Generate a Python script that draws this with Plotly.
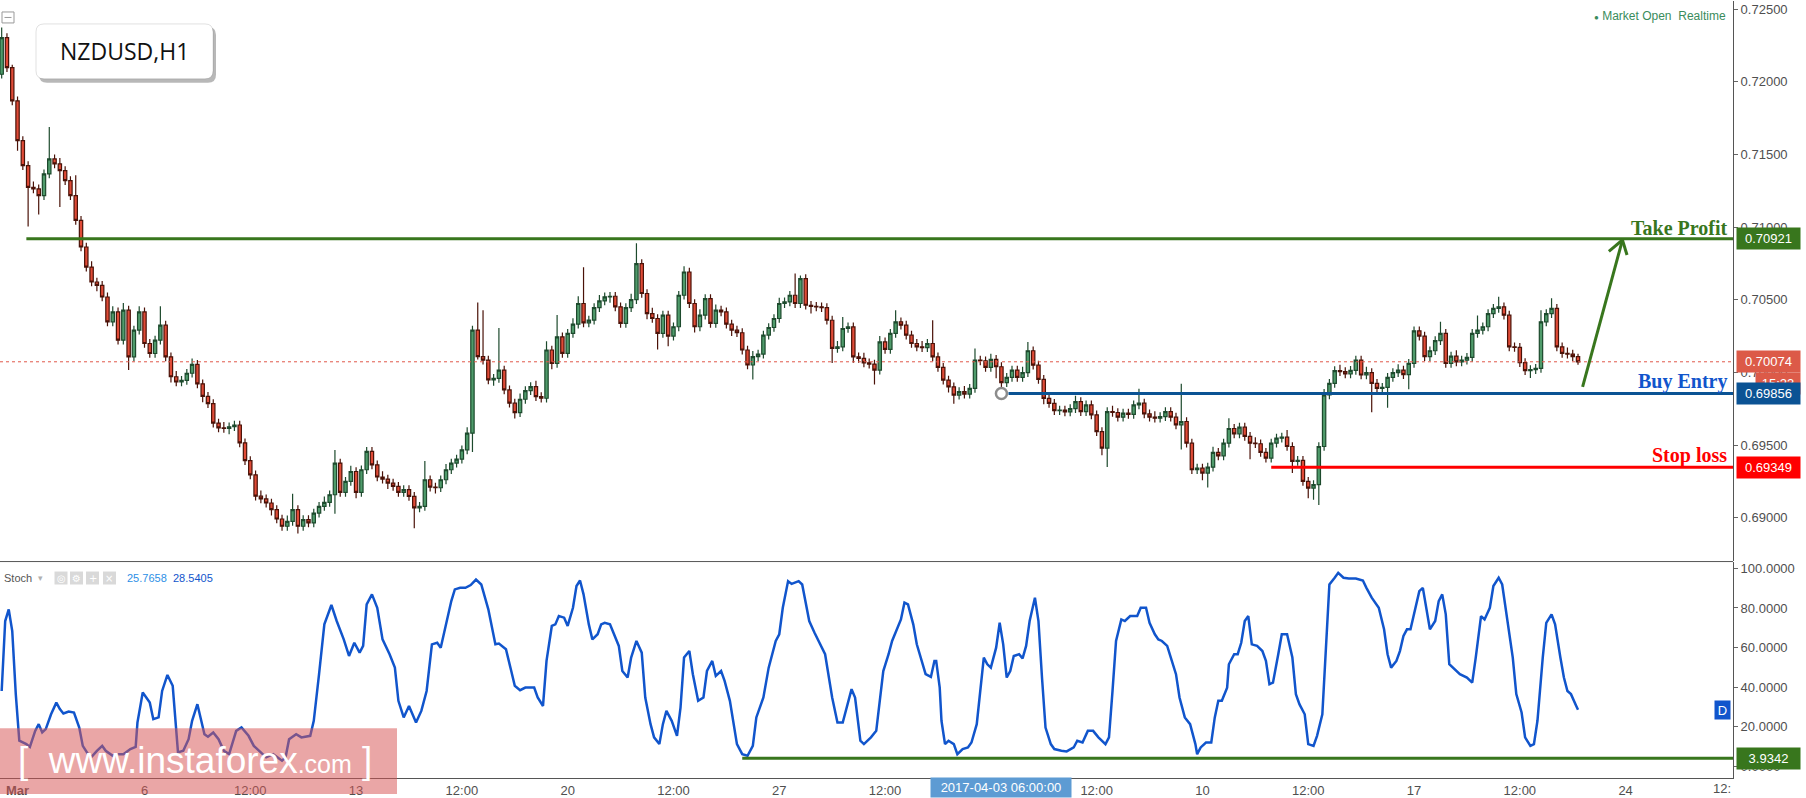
import plotly.graph_objects as go
import pandas as pd

# ------------------------------------------------------------------ data
# NZDUSD, read off the picture as 3-hour candles (first bar: Tue 28 Feb 2017 15:00)
bar_start = "2017-02-28 15:00"
bar_step_hours = 3
first_open = 0.72053
closes = [
    0.72305, 0.72099, 0.71870, 0.71596, 0.71424, 0.71275, 0.71264, 0.71218, 0.71367, 0.71470,
    0.71436, 0.71390, 0.71321, 0.71218, 0.71047, 0.70864, 0.70726, 0.70623, 0.70600, 0.70520,
    0.70349, 0.70417, 0.70223, 0.70429, 0.70108, 0.70292, 0.70417, 0.70200, 0.70131, 0.70223,
    0.70326, 0.70108, 0.69971, 0.69935, 0.69946, 0.69995, 0.70056, 0.69922, 0.69836, 0.69786,
    0.69652, 0.69619, 0.69615, 0.69627, 0.69639, 0.69516, 0.69394, 0.69296, 0.69149, 0.69130,
    0.69102, 0.69056, 0.68992, 0.68942, 0.68976, 0.69056, 0.68942, 0.68988, 0.68965, 0.69033,
    0.69079, 0.69107, 0.69159, 0.69377, 0.69175, 0.69251, 0.69319, 0.69175, 0.69331, 0.69457,
    0.69365, 0.69281, 0.69267, 0.69239, 0.69217, 0.69175, 0.69194, 0.69148, 0.69068, 0.69079,
    0.69262, 0.69212, 0.69207, 0.69262, 0.69331, 0.69377, 0.69404, 0.69468, 0.69583, 0.70292,
    0.70109, 0.70086, 0.69949, 0.69960, 0.70017, 0.69880, 0.69789, 0.69724, 0.69816, 0.69876,
    0.69903, 0.69834, 0.69823, 0.70155, 0.70063, 0.70246, 0.70132, 0.70269, 0.70333, 0.70475,
    0.70342, 0.70361, 0.70447, 0.70493, 0.70521, 0.70525, 0.70452, 0.70338, 0.70447, 0.70502,
    0.70749, 0.70544, 0.70406, 0.70372, 0.70269, 0.70395, 0.70251, 0.70315, 0.70532, 0.70692,
    0.70475, 0.70315, 0.70395, 0.70509, 0.70338, 0.70429, 0.70418, 0.70333, 0.70292, 0.70274,
    0.70155, 0.70052, 0.70109, 0.70127, 0.70258, 0.70310, 0.70372, 0.70475, 0.70486, 0.70532,
    0.70475, 0.70647, 0.70463, 0.70456, 0.70452, 0.70447, 0.70360, 0.70166, 0.70177, 0.70303,
    0.70314, 0.70108, 0.70097, 0.70067, 0.70058, 0.70017, 0.70211, 0.70159, 0.70269, 0.70349,
    0.70326, 0.70257, 0.70200, 0.70177, 0.70172, 0.70200, 0.70108, 0.70035, 0.69948, 0.69902,
    0.69845, 0.69868, 0.69852, 0.69891, 0.70086, 0.70081, 0.70035, 0.70090, 0.70040, 0.69930,
    0.69967, 0.70017, 0.69967, 0.69999, 0.70150, 0.70051, 0.69953, 0.69822, 0.69788, 0.69738,
    0.69742, 0.69729, 0.69752, 0.69800, 0.69731, 0.69777, 0.69709, 0.69594, 0.69480, 0.69731,
    0.69725, 0.69693, 0.69720, 0.69712, 0.69777, 0.69789, 0.69715, 0.69693, 0.69686, 0.69697,
    0.69731, 0.69693, 0.69640, 0.69663, 0.69514, 0.69331, 0.69342, 0.69308, 0.69349, 0.69450,
    0.69427, 0.69514, 0.69615, 0.69578, 0.69624, 0.69560, 0.69514, 0.69510, 0.69450, 0.69411,
    0.69514, 0.69548, 0.69555, 0.69491, 0.69388, 0.69395, 0.69251, 0.69205, 0.69228, 0.69491,
    0.69846, 0.69926, 0.70013, 0.70006, 0.69990, 0.70015, 0.70086, 0.69983, 0.69999, 0.69926,
    0.69891, 0.69898, 0.69967, 0.69999, 0.70017, 0.69985, 0.70063, 0.70287, 0.70251, 0.70109,
    0.70150, 0.70219, 0.70269, 0.70063, 0.70113, 0.70074, 0.70086, 0.70104, 0.70269, 0.70292,
    0.70315, 0.70406, 0.70441, 0.70452, 0.70395, 0.70177, 0.70173, 0.70068, 0.70013, 0.70020,
    0.70029, 0.70349, 0.70406, 0.70441, 0.70177, 0.70132, 0.70127, 0.70109, 0.70074,
]
# wick lengths beyond the candle body, in pips
up_wick_pips = [
    7, 3, 2, 3, 3, 3, 4, 3, 3, 22,
    3, 4, 3, 3, 14, 3, 3, 4, 3, 3,
    3, 4, 3, 5, 3, 3, 4, 3, 3, 3,
    13, 3, 3, 4, 3, 3, 4, 3, 3, 3,
    3, 3, 4, 3, 3, 3, 3, 3, 3, 4,
    3, 3, 3, 3, 4, 11, 3, 3, 3, 3,
    3, 4, 3, 9, 3, 3, 4, 3, 3, 3,
    3, 3, 4, 3, 3, 3, 3, 3, 3, 3,
    13, 3, 3, 3, 4, 3, 3, 3, 4, 3,
    19, 32, 3, 3, 29, 3, 3, 3, 4, 3,
    3, 4, 3, 6, 3, 15, 3, 3, 4, 5,
    25, 3, 3, 4, 3, 3, 3, 3, 3, 4,
    14, 3, 3, 4, 3, 3, 3, 3, 3, 4,
    3, 3, 4, 3, 3, 4, 3, 3, 3, 3,
    3, 3, 4, 3, 3, 3, 3, 4, 3, 3,
    15, 2, 3, 3, 3, 3, 3, 3, 4, 8,
    3, 3, 3, 4, 3, 3, 4, 3, 3, 8,
    3, 3, 3, 3, 4, 3, 16, 3, 3, 3,
    3, 3, 4, 3, 8, 3, 3, 4, 3, 3,
    3, 3, 3, 4, 6, 3, 3, 3, 3, 3,
    3, 3, 3, 4, 3, 3, 3, 3, 3, 3,
    4, 3, 3, 3, 3, 10, 3, 3, 4, 3,
    3, 3, 3, 26, 3, 3, 3, 3, 3, 4,
    3, 3, 7, 3, 3, 3, 3, 4, 3, 3,
    3, 3, 3, 5, 3, 3, 3, 3, 3, 3,
    4, 3, 3, 4, 3, 3, 3, 3, 4, 3,
    3, 3, 3, 3, 4, 3, 3, 3, 3, 3,
    3, 3, 8, 3, 3, 4, 3, 3, 3, 10,
    3, 3, 3, 7, 3, 3, 3, 3, 3, 3,
    3, 8, 3, 7, 3, 3, 4, 3, 2,
]
down_wick_pips = [
    3, 3, 3, 7, 3, 27, 3, 13, 3, 3,
    3, 25, 3, 3, 3, 3, 3, 3, 4, 3,
    3, 3, 3, 3, 9, 3, 3, 3, 3, 3,
    3, 3, 4, 3, 3, 3, 3, 3, 4, 3,
    3, 3, 3, 4, 3, 3, 3, 3, 3, 3,
    3, 4, 3, 3, 3, 3, 5, 3, 3, 3,
    3, 3, 3, 13, 3, 3, 3, 4, 3, 3,
    3, 3, 3, 4, 3, 3, 3, 3, 14, 3,
    3, 3, 4, 3, 3, 3, 3, 3, 3, 13,
    2, 3, 3, 4, 3, 3, 3, 4, 3, 3,
    3, 3, 3, 3, 4, 3, 3, 3, 3, 3,
    3, 3, 3, 3, 3, 4, 3, 3, 3, 3,
    3, 3, 4, 3, 11, 3, 7, 3, 3, 3,
    3, 4, 3, 3, 3, 3, 3, 3, 4, 3,
    3, 3, 10, 3, 3, 3, 3, 3, 3, 3,
    3, 3, 3, 5, 3, 3, 3, 10, 3, 3,
    3, 4, 3, 3, 3, 10, 3, 3, 3, 3,
    3, 3, 3, 3, 3, 3, 3, 3, 3, 4,
    6, 3, 3, 3, 3, 3, 3, 3, 8, 3,
    3, 3, 3, 3, 3, 3, 3, 4, 3, 3,
    3, 3, 3, 3, 3, 3, 3, 3, 5, 13,
    3, 3, 3, 3, 3, 3, 3, 3, 3, 3,
    3, 3, 3, 17, 3, 3, 3, 5, 10, 3,
    3, 3, 3, 3, 3, 3, 11, 3, 3, 3,
    3, 3, 3, 3, 8, 3, 3, 7, 8, 14,
    3, 3, 3, 3, 3, 3, 3, 3, 3, 20,
    3, 3, 14, 3, 3, 3, 10, 3, 3, 3,
    3, 3, 3, 3, 3, 3, 3, 3, 3, 3,
    3, 3, 3, 3, 3, 3, 3, 3, 3, 5,
    3, 3, 3, 3, 3, 3, 3, 3, 2,
]

# Stochastic %D, read at the turning points of the curve
# (time in trading hours counted from Mon 6 Mar 2017 00:00)
stoch_hour = [
    -81, -79, -77, -75, -73, -71, -67, -65, -62, -60, -58, -56, -53, -50, -48, -46, -43, -40,
    -37, -35, -32, -30, -27, -24, -22, -18, -15, -12, -8, -5, -4, -1, 3, 5, 8, 10, 13, 16, 19,
    22, 25, 27, 30, 34, 36, 39, 42, 45, 48, 52, 55, 59, 62, 66, 69, 73, 78, 80, 82, 86, 89, 94,
    96, 99, 102, 106, 109, 113, 116, 119, 122, 124, 126, 129, 132, 135, 139, 142, 144, 147, 150,
    152, 154, 157, 160, 163, 166, 168, 170, 174, 176, 179, 182, 185, 188, 191, 195, 199, 201,
    205, 208, 210, 213, 216, 221, 223, 226, 228, 231, 233, 235, 238, 240, 243, 245, 247, 249,
    252, 254, 257, 259, 261, 264, 266, 269, 271, 274, 276, 279, 282, 284, 287, 289, 292, 294,
    296, 299, 302, 304, 306, 309, 311, 314, 317, 319, 322, 324, 327, 329, 332, 334, 336, 339,
    342, 345, 347, 351, 354, 358, 360, 362, 365, 367, 371, 373, 377, 380, 383, 386, 390, 393,
    396, 398, 401, 403, 406, 408, 412, 415, 419, 422, 424,
    429, 431, 433, 436, 438, 441, 443, 446, 448, 449, 451, 452, 454, 456, 459, 461, 464, 467,
    469, 472, 474, 476, 478, 480, 483, 485, 487, 489, 491, 493, 496, 498, 500, 502, 505, 507,
    509, 511, 514, 516, 520, 523, 527, 529, 532, 535, 538, 541, 545, 547, 549, 551, 554, 556,
    559, 563, 565, 568, 570, 573, 575, 577, 580, 582, 585, 587, 590, 593, 596, 597, 599, 602,
    605, 607, 609, 611, 614, 615, 618, 620, 622, 624, 626, 628, 631, 634, 636, 638, 640, 643,
    645, 648, 651, 653, 655, 658, 660, 663, 665, 668, 670, 672, 675, 677, 680, 683, 687, 691,
    693, 696, 700, 703, 705, 707, 710, 712, 714, 716, 718, 720, 723, 725, 727, 729, 732, 734,
    736, 738, 740, 743, 746, 750, 753, 755, 758, 760, 763, 765, 768, 770, 772, 776, 778, 781,
    783, 786, 788, 790, 793, 795, 798, 800, 803, 805, 807, 809, 812, 813,
]
stoch_d = [
    38.0, 73.4, 79.3, 68.3, 36.4, 12.8, 11.1, 9.7, 17.8, 21.2, 17.0, 18.7, 26.2, 32.1, 28.8, 26.6, 27.6, 27.1,
    19.5, 10.2, 6.0, 4.7, 7.7, 10.2, 7.7, 5.2, 6.0, 6.0, 8.6, 9.7, 22.0, 37.2, 32.1, 23.7, 24.6, 38.0, 46.1, 40.6, 6.9,
    7.7, 13.6, 22.9, 31.3, 16.1, 14.8, 17.0, 13.6, 7.7, 6.0, 17.8, 19.5, 15.3, 10.2, 6.9, 4.4, 6.0, 2.7, 4.4, 13.6, 16.1, 14.5, 15.3,
    22.9, 46.5, 71.7, 81.5, 73.4, 64.1, 55.7, 62.4, 57.4, 60.8, 81.8, 86.9, 80.1, 64.1, 56.6, 49.8, 33.0, 24.6, 30.4,
    26.2, 22.0, 27.9, 38.0, 61.6, 62.4, 59.9, 67.5, 83.5, 89.4, 90.2, 90.2, 91.6, 94.4, 91.9, 79.3, 61.6, 62.0,
    59.1, 48.1, 40.6, 38.4, 39.7, 39.7, 34.7, 30.4, 53.2, 70.9, 71.7, 75.9, 75.1, 70.9, 80.1, 91.1, 93.9, 86.9,
    71.7, 64.1, 66.7, 71.7, 72.5, 71.7, 67.5, 60.8, 48.1, 44.8, 54.9, 63.3, 57.4, 34.7, 21.2, 14.5, 11.1, 21.2,
    27.9, 22.9, 15.3, 29.6, 54.9, 58.2, 46.5, 33.0, 34.7, 48.1, 53.2, 45.6, 48.1, 43.1, 33.0, 21.2, 11.1, 6.0,
    5.2, 10.2, 24.6, 34.7, 49.8, 63.3, 66.7, 80.1, 93.6, 92.2, 93.6, 91.9, 73.4, 67.5, 62.4, 56.6, 34.7, 22.0,
    22.0, 28.8, 38.9, 34.7, 12.8, 11.1, 14.5, 17.8, 48.1, 56.6, 63.3,
    74.2, 82.7, 81.8, 71.7, 61.6, 53.2, 46.5, 45.1, 53.2, 53.2, 39.7, 22.9, 11.1, 12.8, 11.1, 6.0, 8.6, 9.4,
    11.9, 21.2, 39.7, 54.9, 51.5, 49.8, 59.9, 72.5, 61.6, 44.8, 48.1, 55.7, 56.6, 54.5, 60.8, 73.4, 85.2, 73.4,
    44.8, 19.5, 11.1, 8.6, 7.7, 7.4, 9.4, 12.8, 11.9, 17.8, 17.8, 14.5, 11.1, 14.5, 38.0, 63.3, 74.2, 73.4,
    75.9, 75.9, 80.1, 80.1, 72.5, 66.7, 64.1, 63.3, 60.8, 54.9, 46.5, 34.7, 24.6, 21.2, 11.1, 6.0, 9.4, 11.9,
    11.9, 24.6, 33.0, 33.0, 39.7, 51.5, 56.6, 56.6, 62.4, 73.4, 75.9, 61.6, 60.8, 58.2, 53.2, 41.4, 42.2, 56.6,
    66.7, 66.7, 54.9, 36.4, 31.3, 26.2, 11.1, 10.2, 15.3, 26.2, 56.6, 91.9, 95.3, 97.8, 95.3, 94.9, 94.9, 93.9,
    90.2, 85.2, 80.1, 69.2, 56.6, 49.8, 53.2, 58.2, 65.8, 69.2, 69.2, 77.6, 88.5, 90.2, 80.1, 69.2, 73.4, 83.5,
    86.9, 76.8, 51.5, 49.0, 46.5, 44.8, 42.2, 54.9, 75.9, 74.2, 80.1, 91.1, 95.3, 91.9, 80.1, 54.9, 36.4, 27.1,
    14.5, 10.2, 11.1, 22.9, 54.9, 72.5, 76.8, 71.7, 54.9, 44.8, 38.0, 36.4, 30.4, 28.5,
]

take_profit = 0.70921
buy_entry = 0.69856
stop_loss = 0.69349
last_price = 0.70074
stoch_level = 3.9342
stoch_k_last = 25.7658
stoch_d_last = 28.5405

tp_line_start = "2017-03-01 05:00"
entry_mark_time = "2017-04-03 06:00"
entry_line_start = "2017-04-03 10:00"
sl_line_start = "2017-04-11 15:00"
stoch_line_start = "2017-03-24 03:00"

x_tick_dates = ["2017-03-01 00:00", "2017-03-06 00:00", "2017-03-08 12:00", "2017-03-13 00:00",
                "2017-03-15 12:00", "2017-03-20 00:00", "2017-03-22 12:00", "2017-03-27 00:00",
                "2017-03-29 12:00", "2017-04-05 12:00", "2017-04-10 00:00", "2017-04-12 12:00",
                "2017-04-17 00:00", "2017-04-19 12:00", "2017-04-24 00:00"]
x_tick_text = ["<b>Mar</b>", "6", "12:00", "13", "12:00", "20", "12:00", "27", "12:00",
               "12:00", "10", "12:00", "17", "12:00", "24"]
price_ticks = [0.690, 0.695, 0.700, 0.705, 0.710, 0.715, 0.720, 0.725]
stoch_ticks = [0, 20, 40, 60, 80, 100]


# ------------------------------------------------------------------ helpers
def trading_hour(ts):
    """Hours of trading time (Mon-Fri) since Mon 6 Mar 2017 00:00."""
    ts = pd.Timestamp(ts)
    days = (ts.normalize() - pd.Timestamp("2017-03-06")).days
    weeks, wd = divmod(days, 7)
    return weeks * 120 + wd * 24 + ts.hour + ts.minute / 60.0


PW, PH = 1733, 779          # plot area in px
FIG_W, FIG_H = 1806, 798
FONT = "Liberation Sans"
AX_COL = "#4f4f4f"


def px(xp):
    return xp / PW


def py(yp):
    return 1 - yp / PH


pip = 0.0001
n = len(closes)
start_h = trading_hour(bar_start)
bar_x = [start_h + bar_step_hours * i for i in range(n)]
opens = [first_open] + closes[:-1]
highs = [max(o, c) + u * pip for o, c, u in zip(opens, closes, up_wick_pips)]
lows = [min(o, c) - d * pip for o, c, d in zip(opens, closes, down_wick_pips)]

x_min, x_max = -81.95, 900.9

fig = go.Figure()
fig.add_trace(go.Candlestick(
    x=bar_x, open=opens, high=highs, low=lows, close=closes,
    increasing=dict(fillcolor="#4f9b6b", line=dict(color="#1d4a2d", width=1.2)),
    decreasing=dict(fillcolor="#e04b37", line=dict(color="#4a1208", width=1.2)),
    whiskerwidth=0, hoverinfo="skip", showlegend=False, xaxis="x", yaxis="y"))

fig.add_trace(go.Scatter(
    x=stoch_hour, y=stoch_d, mode="lines", line=dict(color="#1155cc", width=2.5),
    hoverinfo="skip", showlegend=False, xaxis="x", yaxis="y2"))

# entry marker circle
fig.add_trace(go.Scatter(
    x=[trading_hour(entry_mark_time)], y=[buy_entry], mode="markers",
    marker=dict(symbol="circle", size=11, color="white", line=dict(color="#8c8c8c", width=2.5)),
    hoverinfo="skip", showlegend=False, xaxis="x", yaxis="y"))

shapes = []
# panel divider
shapes.append(dict(type="line", xref="paper", yref="paper", x0=0, x1=1, y0=py(562), y1=py(562),
                   line=dict(color="#555555", width=1)))
# level lines
shapes.append(dict(type="line", xref="x", yref="y", x0=x_min, x1=x_max, y0=last_price, y1=last_price,
                   line=dict(color="#e0584a", width=1, dash="dot")))
shapes.append(dict(type="line", xref="x", yref="y", x0=trading_hour(tp_line_start), x1=x_max,
                   y0=take_profit, y1=take_profit, line=dict(color="#38761d", width=3)))
shapes.append(dict(type="line", xref="x", yref="y", x0=trading_hour(entry_line_start), x1=x_max,
                   y0=buy_entry, y1=buy_entry, line=dict(color="#0b5394", width=3)))
shapes.append(dict(type="line", xref="x", yref="y", x0=trading_hour(sl_line_start), x1=x_max,
                   y0=stop_loss, y1=stop_loss, line=dict(color="#ff0000", width=3)))
shapes.append(dict(type="line", xref="x", yref="y2", x0=trading_hour(stoch_line_start), x1=x_max,
                   y0=stoch_level, y1=stoch_level, line=dict(color="#38761d", width=3)))
# target arrow (drawn annotation)
arrow_col = "#38761d"
tip = (838.2, 0.70912)
shapes.append(dict(type="line", xref="x", yref="y", x0=815.6, y0=0.69902, x1=tip[0], y1=tip[1],
                   line=dict(color=arrow_col, width=3)))
shapes.append(dict(type="line", xref="x", yref="y", x0=tip[0], y0=tip[1], x1=830.5, y1=0.70834,
                   line=dict(color=arrow_col, width=3)))
shapes.append(dict(type="line", xref="x", yref="y", x0=tip[0], y0=tip[1], x1=840.8, y1=0.70809,
                   line=dict(color=arrow_col, width=3)))


def rounded_rect(x0, y0, x1, y1, r):
    rx, ry = r / PW, r / PH
    X0, X1, Y0, Y1 = px(x0), px(x1), py(y0), py(y1)
    return (f"M {X0+rx},{Y0} L {X1-rx},{Y0} Q {X1},{Y0} {X1},{Y0-ry} "
            f"L {X1},{Y1+ry} Q {X1},{Y1} {X1-rx},{Y1} L {X0+rx},{Y1} "
            f"Q {X0},{Y1} {X0},{Y1+ry} L {X0},{Y0-ry} Q {X0},{Y0} {X0+rx},{Y0} Z")


# title box with shadow
shapes.append(dict(type="path", xref="paper", yref="paper", path=rounded_rect(39, 26, 216, 82, 8),
                   fillcolor="rgba(0,0,0,0.28)", line=dict(width=0), layer="above"))
shapes.append(dict(type="path", xref="paper", yref="paper", path=rounded_rect(36, 23, 213, 78, 8),
                   fillcolor="white", line=dict(color="rgba(0,0,0,0.12)", width=1), layer="above"))
# collapse icon top-left
shapes.append(dict(type="rect", xref="paper", yref="paper", x0=px(2), x1=px(14), y0=py(11), y1=py(22),
                   line=dict(color="#999999", width=1), fillcolor="white"))
shapes.append(dict(type="line", xref="paper", yref="paper", x0=px(4.5), x1=px(11.5), y0=py(16.5), y1=py(16.5),
                   line=dict(color="#999999", width=1)))
# stoch header icon squares
icon_x = [54.5, 70, 86, 103]
for ix in icon_x:
    shapes.append(dict(type="rect", xref="paper", yref="paper", x0=px(ix), x1=px(ix + 13),
                       y0=py(572), y1=py(585), fillcolor="#d9d9d9", line=dict(width=0)))
# watermark
shapes.append(dict(type="rect", xref="paper", yref="paper", x0=px(0), x1=px(397), y0=py(729), y1=py(795),
                   fillcolor="rgba(214,84,84,0.52)", line=dict(width=0), layer="above"))

annotations = []


def box(y, text, color, yref="y", x=1736, width=59, xanchor="left"):
    return dict(x=px(x), xref="paper", xanchor=xanchor, y=y, yref=yref, yanchor="middle",
                text=text, showarrow=False, bgcolor=color, width=width, height=17, borderpad=2,
                align="center", font=dict(color="white", size=13, family=FONT))


annotations.append(box(take_profit, f"{take_profit:.5f}", "#38761d"))
annotations.append(box(last_price, f"{last_price:.5f}", "#dc5a48"))
annotations.append(box(py(383), "15:23", "#dc5a48", yref="paper", x=1755, width=40))
annotations.append(box(buy_entry, f"{buy_entry:.5f}", "#0b5394"))
annotations.append(box(stop_loss, f"{stop_loss:.5f}", "#ff0000"))
annotations.append(box(stoch_level, f"{stoch_level:.4f}", "#38761d", yref="y2"))
annotations.append(dict(x=px(1731), xref="paper", xanchor="right", y=stoch_d_last, yref="y2",
                        yanchor="middle", text="D", showarrow=False, bgcolor="#1155cc",
                        width=13, height=16, borderpad=1,
                        font=dict(color="white", size=13, family=FONT)))

for lvl, label, col in [(take_profit, "Take Profit", "#38761d"),
                        (buy_entry, "Buy Entry", "#1155cc"),
                        (stop_loss, "Stop loss", "#ff0000")]:
    annotations.append(dict(x=px(1729), xref="paper", xanchor="right", y=lvl, yref="y",
                            yanchor="bottom", yshift=-2, text=f"<b>{label}</b>", showarrow=False,
                            font=dict(family="Liberation Serif", size=20, color=col)))

annotations.append(dict(x=px(124.5), xref="paper", y=py(50), yref="paper", text="NZDUSD,H1",
                        showarrow=False, xanchor="center", yanchor="middle",
                        font=dict(family="Open Sans", size=23, color="#111111")))
annotations.append(dict(x=px(1728), xref="paper", xanchor="right", y=py(15.5), yref="paper",
                        yanchor="middle", text="<span style='font-size:8px'>●</span> Market Open  Realtime",
                        showarrow=False, font=dict(family=FONT, size=12, color="#3a8c5c")))

# stoch header
annotations.append(dict(x=px(2), xref="paper", xanchor="left", y=py(578), yref="paper", yanchor="middle",
                        text="Stoch", showarrow=False, font=dict(family=FONT, size=11, color="#555555")))
annotations.append(dict(x=px(36), xref="paper", xanchor="left", y=py(578), yref="paper", yanchor="middle",
                        text="▾", showarrow=False, font=dict(family="DejaVu Sans", size=9, color="#b0b0b0")))
for ix, g in zip(icon_x, ["◎", "⚙", "+", "×"]):
    annotations.append(dict(x=px(ix + 6.5), xref="paper", xanchor="center", y=py(578.5), yref="paper",
                            yanchor="middle", text=g, showarrow=False,
                            font=dict(family="DejaVu Sans", size=10, color="white")))
annotations.append(dict(x=px(125), xref="paper", xanchor="left", y=py(578), yref="paper", yanchor="middle",
                        text=f"{stoch_k_last:.4f}", showarrow=False,
                        font=dict(family=FONT, size=11, color="#2d8fe6")))
annotations.append(dict(x=px(171), xref="paper", xanchor="left", y=py(578), yref="paper", yanchor="middle",
                        text=f"{stoch_d_last:.4f}", showarrow=False,
                        font=dict(family=FONT, size=11, color="#1155cc")))

# watermark text
annotations.append(dict(x=px(16), xref="paper", xanchor="left", y=py(761), yref="paper", yanchor="middle",
                        text="[&nbsp;&nbsp;www.instaforex<span style='font-size:25px'>.com</span>&nbsp;]",
                        showarrow=False, font=dict(family=FONT, size=37, color="white")))

# crosshair date box and cut-off label
annotations.append(dict(x=trading_hour(entry_mark_time), xref="x", xanchor="center",
                        y=py(788.5), yref="paper", yanchor="middle", text="2017-04-03 06:00:00",
                        showarrow=False, bgcolor="#5d9bd3", width=136, height=15, borderpad=2,
                        font=dict(family=FONT, size=13, color="white")))
annotations.append(dict(x=1.0, xref="paper", xanchor="right", y=py(790), yref="paper", yanchor="middle",
                        text="12:", showarrow=False, font=dict(family=FONT, size=13, color=AX_COL)))

fig.update_layout(
    width=FIG_W, height=FIG_H, autosize=False,
    margin=dict(l=0, r=FIG_W - PW, t=0, b=FIG_H - PH),
    paper_bgcolor="white", plot_bgcolor="white",
    showlegend=False, hovermode=False, boxgap=0.1,
    xaxis=dict(domain=[0, 1], range=[x_min, x_max], anchor="y2",
               tickvals=[trading_hour(d) for d in x_tick_dates], ticktext=x_tick_text,
               tickfont=dict(family=FONT, size=13, color=AX_COL), ticks="",
               showgrid=False, zeroline=False, showline=True, linecolor="#555555", linewidth=1,
               rangeslider=dict(visible=False), fixedrange=True),
    yaxis=dict(domain=[1 - 561 / PH, 1], range=[0.68706, 0.72557], side="right", anchor="x",
               tickvals=price_ticks, ticktext=[f"{v:.5f}" for v in price_ticks],
               tickfont=dict(family=FONT, size=13, color=AX_COL), ticks="outside", ticklen=4,
               tickcolor="#666666", showgrid=False, zeroline=False, showline=True,
               linecolor="#555555", linewidth=1, fixedrange=True),
    yaxis2=dict(domain=[0, 1 - 562 / PH], range=[-6.06, 103.5], side="right", anchor="x",
                tickvals=stoch_ticks, ticktext=[f"{v:.4f}" for v in stoch_ticks],
                tickfont=dict(family=FONT, size=13, color=AX_COL), ticks="outside", ticklen=4,
                tickcolor="#666666", showgrid=False, zeroline=False, showline=True,
                linecolor="#555555", linewidth=1, fixedrange=True),
    shapes=shapes, annotations=annotations,
)

fig.write_html(
    "out.html",
    config={"displayModeBar": False},
    post_script="document.body.style.margin='0';document.body.style.overflow='hidden';",
)
